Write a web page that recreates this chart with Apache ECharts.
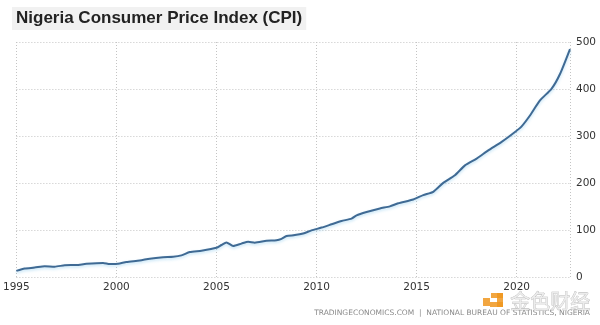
<!DOCTYPE html>
<html>
<head>
<meta charset="utf-8">
<title>Nigeria Consumer Price Index (CPI)</title>
<script src="https://cdn.jsdelivr.net/npm/echarts@6/dist/echarts.min.js"></script>
<style>
  html, body { margin: 0; padding: 0; background: #ffffff; }
  #chart { width: 600px; height: 325px; }
</style>
</head>
<body>
<div id="chart"></div>
<script>
// Nigeria CPI index points (year-month, index value)
const periods = [
  '1995-01','1995-06','1995-12','1996-06','1996-12','1997-06','1998-01','1998-07',
  '1999-05','1999-09','2000-02','2000-07','2001-03','2001-09','2002-05','2002-11',
  '2003-04','2003-09','2004-04','2005-01','2005-04','2005-07','2005-11','2006-04',
  '2006-08','2006-12','2007-07','2008-01','2008-04','2008-07','2008-12','2009-05',
  '2009-10','2010-04','2010-10','2011-04','2011-10','2012-01','2012-07','2013-03',
  '2013-09','2014-02','2014-11','2015-05','2015-11','2016-05','2016-12','2017-06',
  '2018-01','2018-08','2019-04','2019-12','2020-04','2020-09','2021-03','2021-10',
  '2022-03','2022-09'
];
const cpiValues = [
  14, 19, 21, 24, 23, 26, 26.5, 29,
  31, 28.6, 29, 33, 36, 40, 43, 44,
  47, 54, 57, 63, 69, 74.5, 67, 72,
  76, 74, 78, 79, 82, 88, 90, 93.6,
  100, 106, 113, 120, 125, 132, 139, 146.6,
  151, 157.5, 165.6, 175, 182, 201, 217, 238,
  252.5, 270, 288, 309, 321, 344, 376, 401,
  432, 485
];
const yearTicks = [1995, 2000, 2005, 2010, 2015, 2020];
const valueTicks = [0, 100, 200, 300, 400, 500];

const titleText = 'Nigeria Consumer Price Index (CPI)';
const sourceText = 'TRADINGECONOMICS.COM  |  NATIONAL BUREAU OF STATISTICS, NIGERIA';

// decimal year for each period so the x axis can be a plain value scale
function toYear(p) {
  const parts = p.split('-');
  return Number(parts[0]) + (Number(parts[1]) - 1) / 12;
}
const seriesData = periods.map((p, i) => [toYear(p), cpiValues[i]]);
const lastYear = toYear(periods[periods.length - 1]);

const chart = echarts.init(document.getElementById('chart'), null, { renderer: 'canvas' });

const gridLine = { show: true, lineStyle: { color: '#c4c4c4', type: [1, 2], width: 1 } };

chart.setOption({
  backgroundColor: '#ffffff',
  animation: false,
  title: {
    text: titleText,
    left: 12,
    top: 7,
    padding: [3, 4, 3, 4],
    backgroundColor: '#f1f1f1',
    textStyle: {
      fontFamily: 'Liberation Sans, Arial, sans-serif',
      fontSize: 17,
      fontWeight: 'bold',
      color: '#222222'
    }
  },
  grid: { left: 11, right: 30, top: 42, bottom: 47.5, containLabel: false },
  xAxis: {
    type: 'value',
    min: yearTicks[0],
    max: lastYear,
    interval: 5,
    axisLine: { show: false },
    axisTick: { show: false },
    splitLine: gridLine,
    axisLabel: {
      margin: 4,
      color: '#333333',
      fontFamily: 'DejaVu Sans, sans-serif',
      fontSize: 10.5,
      showMaxLabel: false,
      formatter: v => (yearTicks.indexOf(Math.round(v)) >= 0 && Math.abs(v - Math.round(v)) < 1e-6) ? String(Math.round(v)) : ''
    }
  },
  yAxis: {
    type: 'value',
    position: 'right',
    min: valueTicks[0],
    max: valueTicks[valueTicks.length - 1],
    interval: 100,
    axisLine: { show: false },
    axisTick: { show: false },
    splitLine: gridLine,
    axisLabel: {
      margin: 6,
      color: '#333333',
      fontFamily: 'DejaVu Sans, sans-serif',
      fontSize: 10.5,
      align: 'left'
    }
  },
  series: [{
    type: 'line',
    data: seriesData,
    showSymbol: false,
    smooth: 0.2,
    lineStyle: {
      color: '#3f6a94',
      width: 2,
      shadowColor: 'rgba(110, 190, 235, 0.45)',
      shadowBlur: 3,
      shadowOffsetY: 1.5
    }
  }],
  graphic: [
    {
      type: 'text',
      right: 10,
      top: 309,
      style: {
        text: sourceText,
        fill: '#8a8a8a',
        font: '7.5px "DejaVu Sans", sans-serif'
      }
    },
    // watermark logo blocks
    { type: 'rect', left: 483, top: 298, shape: { width: 7, height: 8 }, style: { fill: 'rgba(240,150,30,0.85)' } },
    { type: 'rect', left: 491, top: 293, shape: { width: 12, height: 5 }, style: { fill: 'rgba(240,150,30,0.85)' } },
    { type: 'rect', left: 497, top: 293, shape: { width: 6, height: 14 }, style: { fill: 'rgba(240,150,30,0.85)' } },
    { type: 'rect', left: 490, top: 302, shape: { width: 13, height: 5 }, style: { fill: 'rgba(240,150,30,0.85)' } },
    {
      type: 'text',
      left: 510,
      top: 291,
      style: {
        text: '金色财经',
        fill: 'rgba(235,235,235,0.9)',
        stroke: 'rgba(160,160,160,0.8)',
        lineWidth: 0.6,
        font: '20px "Noto Sans CJK SC", sans-serif'
      }
    }
  ]
});
</script>
</body>
</html>
